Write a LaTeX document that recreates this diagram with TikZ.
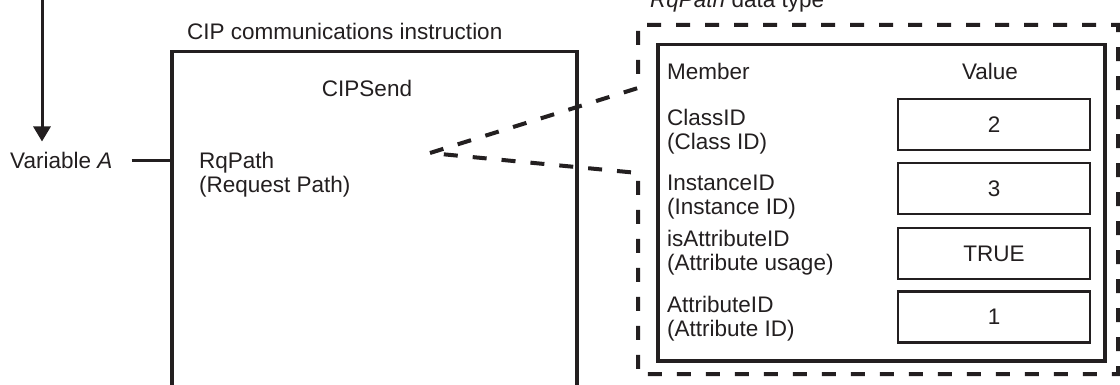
\documentclass[tikz,border=0pt]{standalone}
\usepackage{fontspec}
\setmainfont{Liberation Sans}
\usetikzlibrary{arrows.meta}
\definecolor{ink}{RGB}{35,31,32}
\begin{document}
\begin{tikzpicture}[x=1pt,y=-1pt,
  txt/.style={text=ink,inner sep=0pt,font=\fontsize{22.5}{24.5}\selectfont},
  lbl/.style={txt,align=left,anchor=north west},
  conn/.style={draw=ink,line width=3pt},
  boxline/.style={draw=ink,line width=3.5pt,inner sep=0pt},
  valbox/.style={draw=ink,line width=2.7pt,minimum width=192pt,minimum height=51pt,inner sep=0pt,text=ink,font=\fontsize{22.5}{24.5}\selectfont},
  dashline/.style={draw=ink,line width=4pt,dash pattern=on 14pt off 15pt,line join=miter}]
\useasboundingbox (0,0) rectangle (1120,385);
\clip (0,0) rectangle (1120,385);
\fill[white] (0,0) rectangle (1120,385);

% left part
\node[txt,anchor=base west] (varA) at (10,169) {Variable \textit{A}};
\coordinate (src) at (42,-5);
\draw[conn,-{Triangle[length=15pt,width=17pt]},shorten >=11pt] (src) -- (src |- varA.north);

\node[boxline,anchor=north west,minimum width=405pt,minimum height=380pt] (instr) at (170,50) {};
\node[txt,anchor=base west] (title) at (187,40) {CIP communications instruction};
\node[txt,anchor=base] (cipsend) at (367,97) {CIPSend};
\node[lbl] (rqpath) at (199,150.85) {\strut RqPath\\(Request Path)};
\draw[conn,shorten <=19pt] (varA.east) -- (varA.east -| instr.west);

% callout
\coordinate (apex) at (430,153);
\coordinate (c1) at (638,88);
\coordinate (c2) at (638,25);
\coordinate (c3) at (1118,25);
\coordinate (c4) at (1118,374);
\coordinate (c5) at (638,374);
\coordinate (c6) at (638,173);
\draw[dashline] (apex) -- (c1) -- (c2) -- (c3) -- (c4) -- (c5) -- (c6) -- cycle;
\node[txt,anchor=base west] (dtype) at (650,8) {\textit{RqPath} data type};

% table
\node[boxline,anchor=north west,minimum width=447pt,minimum height=316pt] (table) at (656,43) {};
\node[txt,anchor=base west] (member) at (667,80) {Member};
\node[txt,anchor=base] (value) at (990,80) {Value};

\node[lbl] (m1) at (667,107.85) {\strut ClassID\\(Class ID)};
\node[lbl] (m2) at (667,172.85) {\strut InstanceID\\(Instance ID)};
\node[lbl] (m3) at (667,228.85) {\strut isAttributeID\\(Attribute usage)};
\node[lbl] (m4) at (667,294.85) {\strut AttributeID\\(Attribute ID)};

\node[valbox] (v1) at (994,124.5) {2};
\node[valbox] (v2) at (994,188.5) {3};
\node[valbox] (v3) at (994,253.5) {TRUE};
\node[valbox] (v4) at (994,317) {1};
\end{tikzpicture}
\end{document}
